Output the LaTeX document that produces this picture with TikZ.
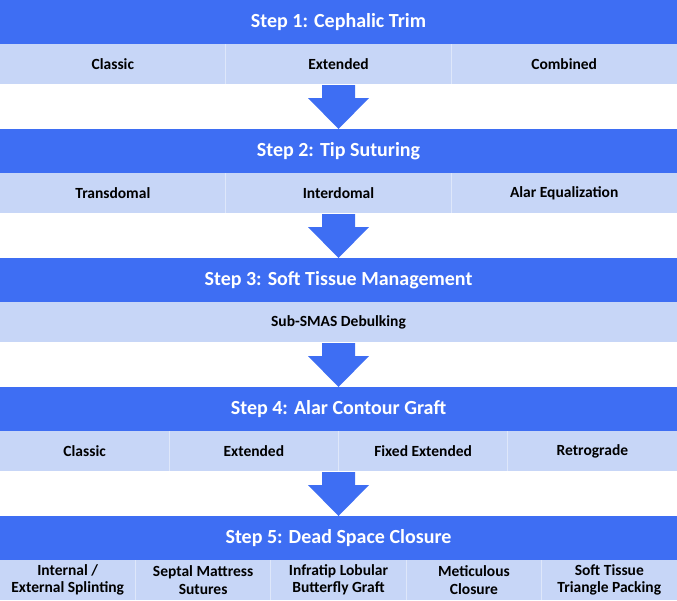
\documentclass[tikz,border=0pt]{standalone}
\usepackage{fontspec}
\setmainfont{Carlito}
\usetikzlibrary{calc}
\definecolor{stepblue}{RGB}{62,110,243}
\definecolor{cellblue}{RGB}{199,214,247}
\definecolor{cellline}{RGB}{222,231,250}
\newcommand{\flowarrow}[2]{%
	\fill[stepblue] ($(#1)+(-16.5,1)$) -- ($(#1)+(16.5,1)$) -- ($(#1)+(16.5,14)$)
	-- ($(#1)+(30.5,14)$) -- (#2) -- ($(#1)+(-30.5,14)$) -- ($(#1)+(-16.5,14)$) -- cycle;}

\begin{document}
\begin{tikzpicture}[x=1pt, y=-1pt, every node/.style={inner sep=0pt, outer sep=0pt},
		stephead/.style={fill=stepblue, text=white, font=\bfseries\fontsize{20}{24}\selectfont,
			minimum width=677pt, minimum height=44pt},
		subcell/.style={fill=cellblue, text=black, font=\bfseries\fontsize{15.5}{17.5}\selectfont,
			minimum height=40pt, align=center, minimum width=#1},
		celldiv/.style={draw=cellline, line width=1pt}]
		\useasboundingbox (0,0) rectangle (677,600);
		
		\node[stephead] (h1) at (338.5, 22) {Step 1: Cephalic Trim};
		\node[subcell=225.67pt] (s1a) at (112.83, 64) {Classic};
		\node[subcell=225.67pt] (s1b) at (338.5, 64) {Extended};
		\node[subcell=225.67pt] (s1c) at (564.17, 64) {Combined};
		\draw[celldiv] (s1a.north east) -- (s1a.south east);
		\draw[celldiv] (s1b.north east) -- (s1b.south east);
		
		\node[stephead] (h2) at (338.5, 151) {Step 2: Tip Suturing};
		\node[subcell=225.67pt] (s2a) at (112.83, 193) {Transdomal};
		\node[subcell=225.67pt] (s2b) at (338.5, 193) {Interdomal};
		\node[subcell=225.67pt] (s2c) at (564.17, 193) {Alar Equalization};
		\draw[celldiv] (s2a.north east) -- (s2a.south east);
		\draw[celldiv] (s2b.north east) -- (s2b.south east);
		
		\node[stephead] (h3) at (338.5, 280) {Step 3: Soft Tissue Management};
		\node[subcell=677pt] (s3a) at (338.5, 322) {Sub-SMAS Debulking};
		
		\node[stephead] (h4) at (338.5, 409) {Step 4: Alar Contour Graft};
		\node[subcell=169.25pt] (s4a) at (84.63, 451) {Classic};
		\node[subcell=169.25pt] (s4b) at (253.88, 451) {Extended};
		\node[subcell=169.25pt] (s4c) at (423.13, 451) {Fixed Extended};
		\node[subcell=169.25pt] (s4d) at (592.38, 451) {Retrograde};
		\draw[celldiv] (s4a.north east) -- (s4a.south east);
		\draw[celldiv] (s4b.north east) -- (s4b.south east);
		\draw[celldiv] (s4c.north east) -- (s4c.south east);
		
		\node[stephead] (h5) at (338.5, 538) {Step 5: Dead Space Closure};
		\node[subcell=135.4pt] (s5a) at (67.7, 580) {Internal /\\External Splinting};
		\node[subcell=135.4pt] (s5b) at (203.1, 580) {Septal Mattress\\Sutures};
		\node[subcell=135.4pt] (s5c) at (338.5, 580) {Infratip Lobular\\Butterfly Graft};
		\node[subcell=135.4pt] (s5d) at (473.9, 580) {Meticulous\\Closure};
		\node[subcell=135.4pt] (s5e) at (609.3, 580) {Soft Tissue\\Triangle Packing};
		\draw[celldiv] (s5a.north east) -- (s5a.south east);
		\draw[celldiv] (s5b.north east) -- (s5b.south east);
		\draw[celldiv] (s5c.north east) -- (s5c.south east);
		\draw[celldiv] (s5d.north east) -- (s5d.south east);
		
		\flowarrow{s1b.south}{h2.north}
		\flowarrow{s2b.south}{h3.north}
		\flowarrow{s3a.south}{h4.north}
		\flowarrow{s4b.south -| h4.south}{h5.north}
		
	\end{tikzpicture}
\end{document}
